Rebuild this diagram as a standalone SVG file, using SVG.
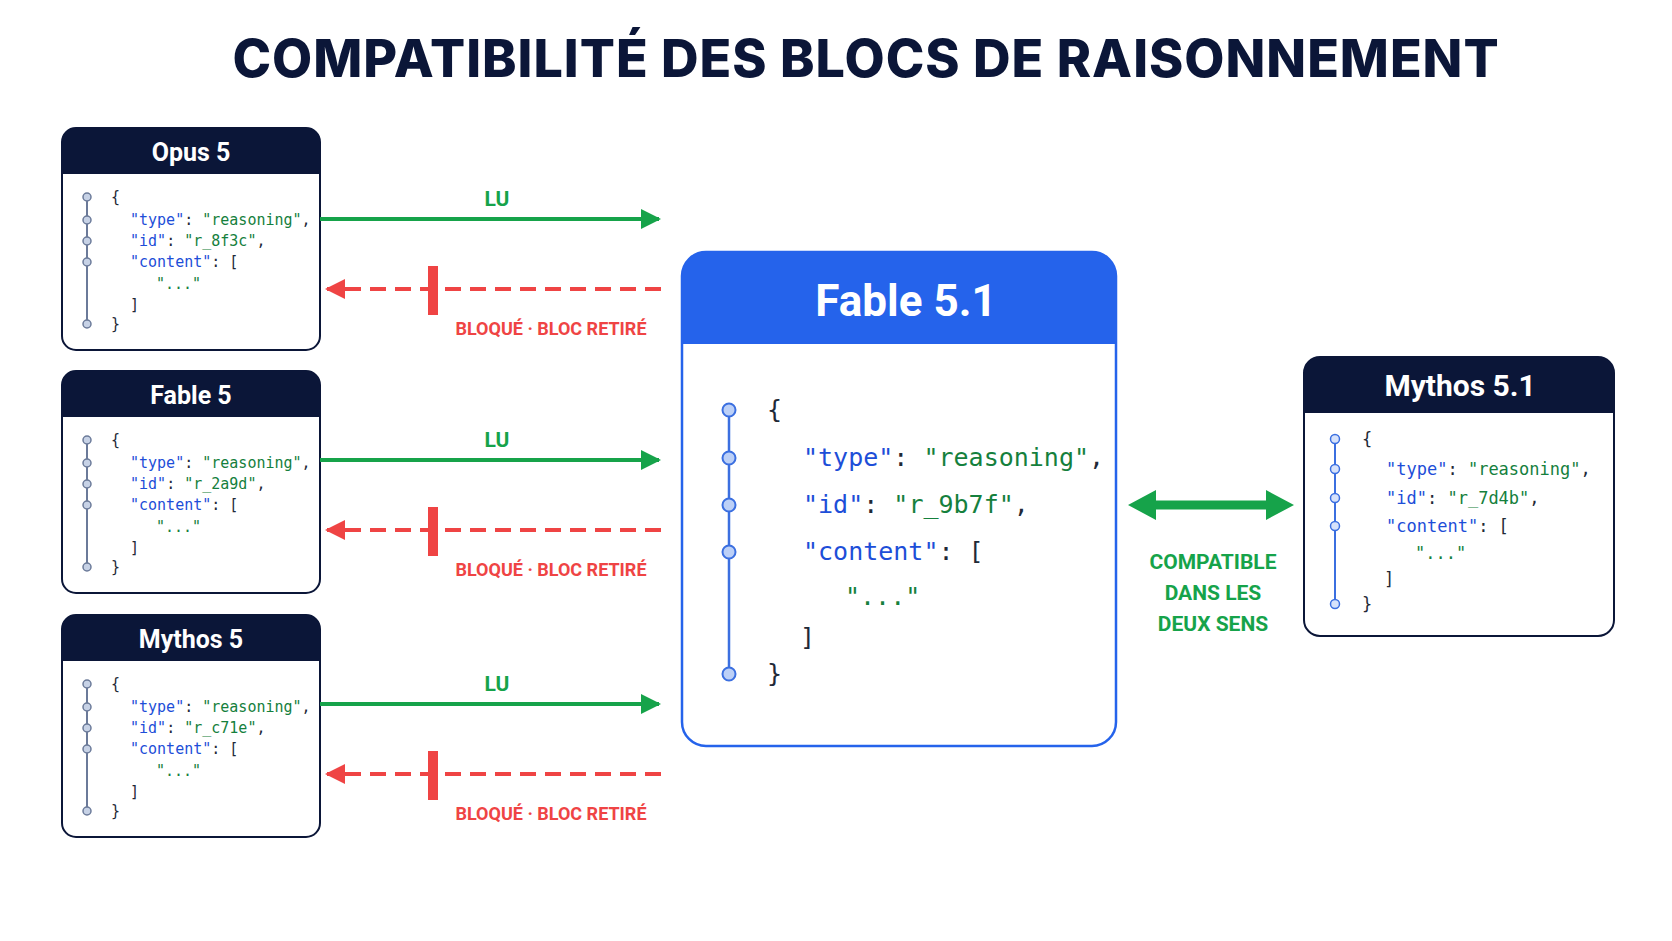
<svg xmlns="http://www.w3.org/2000/svg" width="1672" height="941" viewBox="0 0 1672 941">
<defs>
<style>
.title{font-family:Inter,"Liberation Sans",sans-serif;font-weight:800;font-size:52px;fill:#0b1638;letter-spacing:1px}
.hdr{font-family:Roboto,"Liberation Sans",sans-serif;font-weight:700;fill:#fff;text-anchor:middle}
.code{font-family:"DejaVu Sans Mono","Liberation Mono",monospace;fill:#1f2937}
.k{fill:#1d4ed8}.s{fill:#15803d}
.lbl{font-family:Roboto,"Liberation Sans",sans-serif;font-weight:700;text-anchor:middle}
.g{fill:#16a34a}.r{fill:#ef4444}
.rail{stroke:#6b7a99;stroke-width:2;fill:none}
.dot{fill:#c7d2e6;stroke:#6b7a99;stroke-width:1.5}
.rail2{stroke:#3b6fe0;stroke-width:2.5;fill:none}
.dot2{fill:#bcd0f7;stroke:#3b6fe0;stroke-width:2}
.rail3{stroke:#3b6fe0;stroke-width:2;fill:none}
.dot3{fill:#d6e2fb;stroke:#3b6fe0;stroke-width:1.5}
.ok{stroke:#16a34a;stroke-width:4;fill:none}
.no{stroke:#ef4444;stroke-width:4;fill:none;stroke-dasharray:16 9}
</style>
<marker id="ag" viewBox="0 0 10 10" refX="9" refY="5" markerWidth="5" markerHeight="5" orient="auto-start-reverse"><path d="M0,0 L10,5 L0,10 z" fill="#16a34a"/></marker>
<marker id="ar" viewBox="0 0 10 10" refX="9" refY="5" markerWidth="5" markerHeight="5" orient="auto-start-reverse"><path d="M0,0 L10,5 L0,10 z" fill="#ef4444"/></marker>
<g id="small">
<path class="rail" d="M87 197 V324"/>
<circle class="dot" cx="87" cy="197" r="4"/><circle class="dot" cx="87" cy="220" r="4"/><circle class="dot" cx="87" cy="241" r="4"/><circle class="dot" cx="87" cy="262" r="4"/><circle class="dot" cx="87" cy="324" r="4"/>
</g>
</defs>
<rect width="1672" height="941" fill="#fff"/>
<text class="title" x="866" y="77" text-anchor="middle">COMPATIBILITÉ DES BLOCS DE RAISONNEMENT</text>

<g id="opus5">
<rect x="62" y="128" width="258" height="222" rx="14" fill="#fff" stroke="#0b1638" stroke-width="2"/>
<path d="M62 174 V142 a14 14 0 0 1 14 -14 H306 a14 14 0 0 1 14 14 V174 z" fill="#0b1638"/>
<text class="hdr" x="191" y="161" font-size="25">Opus 5</text>
<use href="#small"/>
<text class="code" font-size="15"><tspan x="111" y="202">{</tspan><tspan x="130" y="225"><tspan class="k">"type"</tspan>: <tspan class="s">"reasoning"</tspan>,</tspan><tspan x="130" y="246"><tspan class="k">"id"</tspan>: <tspan class="s">"r_8f3c"</tspan>,</tspan><tspan x="130" y="267"><tspan class="k">"content"</tspan>: [</tspan><tspan class="s" x="156" y="289">"..."</tspan><tspan x="130" y="310">]</tspan><tspan x="111" y="329">}</tspan></text>
</g>

<g id="fable5">
<rect x="62" y="371" width="258" height="222" rx="14" fill="#fff" stroke="#0b1638" stroke-width="2"/>
<path d="M62 417 V385 a14 14 0 0 1 14 -14 H306 a14 14 0 0 1 14 14 V417 z" fill="#0b1638"/>
<text class="hdr" x="191" y="404" font-size="25">Fable 5</text>
<use href="#small" y="243"/>
<text class="code" font-size="15"><tspan x="111" y="445">{</tspan><tspan x="130" y="468"><tspan class="k">"type"</tspan>: <tspan class="s">"reasoning"</tspan>,</tspan><tspan x="130" y="489"><tspan class="k">"id"</tspan>: <tspan class="s">"r_2a9d"</tspan>,</tspan><tspan x="130" y="510"><tspan class="k">"content"</tspan>: [</tspan><tspan class="s" x="156" y="532">"..."</tspan><tspan x="130" y="553">]</tspan><tspan x="111" y="572">}</tspan></text>
</g>

<g id="mythos5">
<rect x="62" y="615" width="258" height="222" rx="14" fill="#fff" stroke="#0b1638" stroke-width="2"/>
<path d="M62 661 V629 a14 14 0 0 1 14 -14 H306 a14 14 0 0 1 14 14 V661 z" fill="#0b1638"/>
<text class="hdr" x="191" y="648" font-size="25">Mythos 5</text>
<use href="#small" y="487"/>
<text class="code" font-size="15"><tspan x="111" y="689">{</tspan><tspan x="130" y="712"><tspan class="k">"type"</tspan>: <tspan class="s">"reasoning"</tspan>,</tspan><tspan x="130" y="733"><tspan class="k">"id"</tspan>: <tspan class="s">"r_c71e"</tspan>,</tspan><tspan x="130" y="754"><tspan class="k">"content"</tspan>: [</tspan><tspan class="s" x="156" y="776">"..."</tspan><tspan x="130" y="797">]</tspan><tspan x="111" y="816">}</tspan></text>
</g>

<g id="fable51">
<rect x="682" y="252" width="434" height="494" rx="24" fill="#fff" stroke="#2563eb" stroke-width="2.5"/>
<path d="M682 344 V276 a24 24 0 0 1 24 -24 H1092 a24 24 0 0 1 24 24 V344 z" fill="#2563eb"/>
<text class="hdr" x="906" y="316" font-size="44">Fable 5.1</text>
<path class="rail2" d="M729 410 V674"/>
<circle class="dot2" cx="729" cy="410" r="6.5"/><circle class="dot2" cx="729" cy="458" r="6.5"/><circle class="dot2" cx="729" cy="505" r="6.5"/><circle class="dot2" cx="729" cy="552" r="6.5"/><circle class="dot2" cx="729" cy="674" r="6.5"/>
<text class="code" font-size="25"><tspan x="767" y="418">{</tspan><tspan x="803" y="466"><tspan class="k">"type"</tspan>: <tspan class="s">"reasoning"</tspan>,</tspan><tspan x="803" y="513"><tspan class="k">"id"</tspan>: <tspan class="s">"r_9b7f"</tspan>,</tspan><tspan x="803" y="560"><tspan class="k">"content"</tspan>: [</tspan><tspan class="s" x="845" y="605">"..."</tspan><tspan x="800" y="646">]</tspan><tspan x="767" y="682">}</tspan></text>
</g>

<g id="mythos51">
<rect x="1304" y="357" width="310" height="279" rx="16" fill="#fff" stroke="#0b1638" stroke-width="2"/>
<path d="M1304 413 V373 a16 16 0 0 1 16 -16 H1598 a16 16 0 0 1 16 16 V413 z" fill="#0b1638"/>
<text class="hdr" x="1460" y="396" font-size="30">Mythos 5.1</text>
<path class="rail3" d="M1335 439 V604"/>
<circle class="dot3" cx="1335" cy="439" r="4.5"/><circle class="dot3" cx="1335" cy="469" r="4.5"/><circle class="dot3" cx="1335" cy="498" r="4.5"/><circle class="dot3" cx="1335" cy="526" r="4.5"/><circle class="dot3" cx="1335" cy="604" r="4.5"/>
<text class="code" font-size="17"><tspan x="1362" y="445">{</tspan><tspan x="1386" y="475"><tspan class="k">"type"</tspan>: <tspan class="s">"reasoning"</tspan>,</tspan><tspan x="1386" y="504"><tspan class="k">"id"</tspan>: <tspan class="s">"r_7d4b"</tspan>,</tspan><tspan x="1386" y="532"><tspan class="k">"content"</tspan>: [</tspan><tspan class="s" x="1415" y="559">"..."</tspan><tspan x="1384" y="585">]</tspan><tspan x="1362" y="610">}</tspan></text>
</g>

<g id="connectors">
<path class="ok" d="M320 219 H659" marker-end="url(#ag)"/>
<path class="ok" d="M320 460 H659" marker-end="url(#ag)"/>
<path class="ok" d="M320 704 H659" marker-end="url(#ag)"/>
<path class="no" d="M661 289 H327" marker-end="url(#ar)"/>
<path class="no" d="M661 530 H327" marker-end="url(#ar)"/>
<path class="no" d="M661 774 H327" marker-end="url(#ar)"/>
<rect x="428" y="266" width="10" height="49" fill="#ef4444"/>
<rect x="428" y="507" width="10" height="49" fill="#ef4444"/>
<rect x="428" y="751" width="10" height="49" fill="#ef4444"/>
<path d="M1140 505 H1280" stroke="#16a34a" stroke-width="9" fill="none"/>
<path d="M1128 505 L1156 490 V520 z M1294 505 L1266 490 V520 z" fill="#16a34a"/>
<text class="lbl g" x="497" y="206" font-size="21">LU</text>
<text class="lbl g" x="497" y="447" font-size="21">LU</text>
<text class="lbl g" x="497" y="691" font-size="21">LU</text>
<text class="lbl r" x="551" y="335" font-size="18">BLOQUÉ · BLOC RETIRÉ</text>
<text class="lbl r" x="551" y="576" font-size="18">BLOQUÉ · BLOC RETIRÉ</text>
<text class="lbl r" x="551" y="820" font-size="18">BLOQUÉ · BLOC RETIRÉ</text>
<text class="lbl g" font-size="21"><tspan x="1213" y="569">COMPATIBLE</tspan><tspan x="1213" y="600">DANS LES</tspan><tspan x="1213" y="631">DEUX SENS</tspan></text>
</g>
</svg>
